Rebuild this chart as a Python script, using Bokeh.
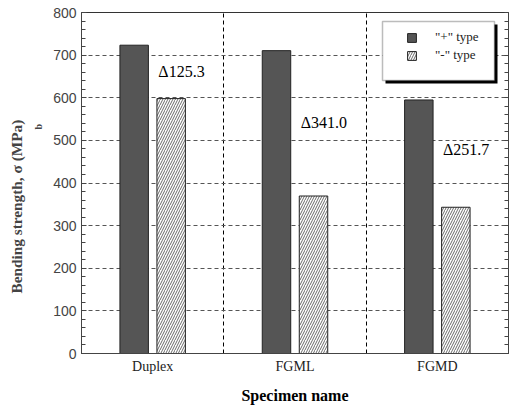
from bokeh.plotting import figure
from bokeh.models import (FactorRange, LinearAxis, Range1d, Legend, LegendItem, Title,
                          BoxAnnotation, FixedTicker, ColumnDataSource, SingleIntervalTicker)
from bokeh.transform import dodge
from bokeh.core.properties import value
from bokeh.embed import file_html
from bokeh.resources import INLINE

# ---- data ----
specimens = ["Duplex", "FGML", "FGMD"]
plus_type = [723.3, 710.5, 594.8]
minus_type = [598.0, 369.5, 343.1]
delta_labels = ["Δ125.3", "Δ341.0", "Δ251.7"]
delta_label_y = [662, 543, 479]
series_names = ['"+" type', '"-" type']
y_minor_ticks = list(range(0, 801, 20))

source = ColumnDataSource(dict(specimen=specimens, plus=plus_type, minus=minus_type,
                               label=delta_labels, label_y=delta_label_y))

p = figure(frame_width=427, frame_height=341, x_range=FactorRange(*specimens),
           y_range=Range1d(0, 800), output_backend="svg", toolbar_location=None,
           min_border_left=81, min_border_right=1, min_border_top=12, min_border_bottom=52)
p.x_range.range_padding = 0
p.outline_line_color = "#333333"
p.background_fill_color = "white"
p.border_fill_color = "white"

# y axis
p.yaxis.ticker = SingleIntervalTicker(interval=100, num_minor_ticks=5)
p.yaxis.axis_line_color = "#444444"
p.yaxis.major_tick_in = 5
p.yaxis.major_tick_out = 0
p.yaxis.minor_tick_in = 4
p.yaxis.minor_tick_out = 0
p.yaxis.major_tick_line_color = "#444444"
p.yaxis.minor_tick_line_color = "#444444"
p.yaxis.major_label_text_font = "Liberation Sans"
p.yaxis.major_label_text_font_size = "14px"
p.yaxis.major_label_text_color = "#444444"
p.yaxis.major_label_standoff = 5

raxis = LinearAxis(ticker=FixedTicker(ticks=[], minor_ticks=y_minor_ticks),
                   major_tick_in=0, major_tick_out=0, minor_tick_in=4, minor_tick_out=0,
                   major_label_standoff=0,
                   axis_line_color="#444444", minor_tick_line_color="#444444")
p.add_layout(raxis, "right")

# x axis
p.xaxis.major_tick_in = 0
p.xaxis.major_tick_out = 0
p.xaxis.axis_line_color = "#444444"
p.xaxis.major_label_text_font = "Liberation Serif"
p.xaxis.major_label_text_font_size = "14px"
p.xaxis.major_label_text_color = "#222222"
p.xaxis.major_label_standoff = 5
p.xaxis.axis_label = "Specimen name"
p.xaxis.axis_label_text_font = "Liberation Serif"
p.xaxis.axis_label_text_font_style = "bold"
p.xaxis.axis_label_text_font_size = "16px"
p.xaxis.axis_label_text_color = "black"
p.xaxis.axis_label_standoff = 10

# grids
p.ygrid.grid_line_dash = "4 3"
p.ygrid.grid_line_color = "#555555"
p.xgrid.ticker = FixedTicker(ticks=[1, 2])
p.xgrid.grid_line_dash = "4 3"
p.xgrid.grid_line_color = "black"

# bars
r1 = p.vbar(x=dodge("specimen", -0.13, range=p.x_range), top="plus", width=0.2, source=source,
            fill_color="#555555", line_color="#222222", line_width=1)
r2 = p.vbar(x=dodge("specimen", 0.13, range=p.x_range), top="minus", width=0.2, source=source,
            fill_color="white", hatch_pattern="/", hatch_color="#444444", hatch_scale=5,
            hatch_weight=0.8, line_color="#222222", line_width=1)

p.text(x=dodge("specimen", 0.04, range=p.x_range), y="label_y", text="label", source=source,
       text_font=value("Liberation Serif"), text_font_size="16px", text_baseline="middle",
       text_align="left", text_color="black")

# legend box with shadow
shadow = BoxAnnotation(left=304, right=416, bottom=270, top=329, left_units="screen",
                       right_units="screen", top_units="screen", bottom_units="screen",
                       fill_color="black", fill_alpha=1, line_alpha=0)
box = BoxAnnotation(left=301, right=413, bottom=273, top=332, left_units="screen",
                    right_units="screen", top_units="screen", bottom_units="screen",
                    fill_color="white", fill_alpha=1, line_color="#222222", line_width=1.5)
p.add_layout(shadow)
p.add_layout(box)

legend = Legend(items=[LegendItem(label=series_names[0], renderers=[r1]),
                       LegendItem(label=series_names[1], renderers=[r2])],
                location=(325, 289), padding=0, spacing=0, margin=0,
                glyph_width=11, glyph_height=11, label_height=18, label_standoff=18,
                border_line_alpha=0, background_fill_alpha=0,
                label_text_font="Liberation Serif", label_text_font_size="13px",
                label_text_color="#222222")
p.add_layout(legend)

# y axis title with subscript (side panels, nearest the frame first)
font = "Liberation Serif"
p.add_layout(Title(text="b", align="left", offset=224, standoff=13, text_font=font,
                   text_font_style="bold", text_font_size="10px"), "left")
p.add_layout(Title(text="Bending strength, σ  (MPa)", align="left", offset=60, standoff=0,
                   text_font=font, text_font_style="bold", text_font_size="15.3px"), "left")

open("out.html", "w").write(file_html(p, INLINE))
